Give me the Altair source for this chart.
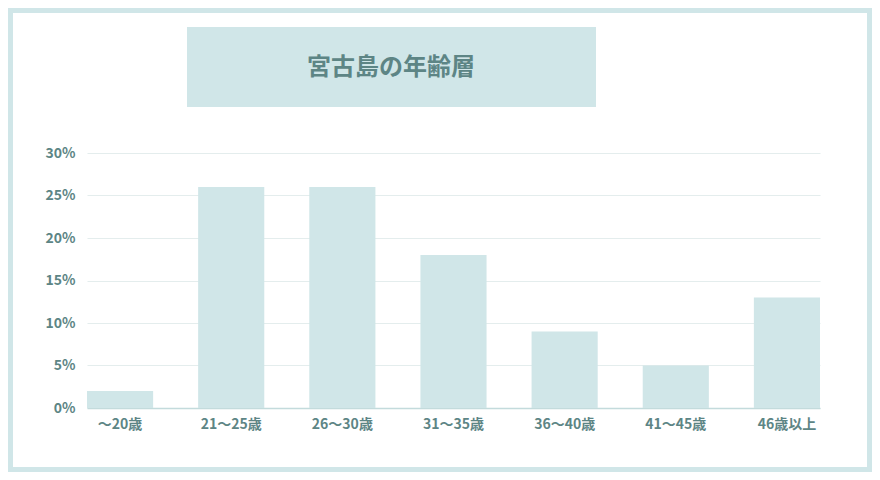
import altair as alt
import pandas as pd

categories = ["〜20歳", "21〜25歳", "26〜30歳", "31〜35歳", "36〜40歳", "41〜45歳", "46歳以上"]
shares = [0.02, 0.26, 0.26, 0.18, 0.09, 0.05, 0.13]
y_ticks = [0, 0.05, 0.10, 0.15, 0.20, 0.25, 0.30]
title_text = "宮古島の年齢層"

TEAL = "#d0e6e8"
TEXT = "#5d8585"
FONT = "Noto Sans CJK JP"

df = pd.DataFrame({"cat": categories, "share": shares})

PAD_L, PAD_T, W, H = 79, 145, 733, 255
TOTAL_W, TOTAL_H = 864, 464

bars = alt.Chart(df).mark_bar(color=TEAL).encode(
    x=alt.X("cat:N", sort=categories, title=None,
            scale=alt.Scale(paddingInner=0.405, paddingOuter=0),
            axis=alt.Axis(labelAngle=0, labelFont=FONT, labelFontSize=14,
                          labelFontWeight="bold", labelColor=TEXT, labelPadding=9,
                          ticks=False, domain=True, domainColor="#c3dbdc",
                          domainWidth=1.5, grid=False)),
    y=alt.Y("share:Q", title=None,
            scale=alt.Scale(domain=[0, 0.30], nice=False),
            axis=alt.Axis(values=y_ticks, format=".0%", labelFont=FONT,
                          labelFontSize=14, labelFontWeight="bold", labelColor=TEXT,
                          labelPadding=12, ticks=False, domain=False,
                          grid=True, gridColor="#e4eded", gridWidth=1.2)),
)

title_box = alt.Chart(pd.DataFrame({"t": [title_text]})).mark_rect(color=TEAL).encode(
    x=alt.value(179 - PAD_L), x2=alt.value(588 - PAD_L),
    y=alt.value(19 - PAD_T), y2=alt.value(99 - PAD_T),
)

title_label = alt.Chart(pd.DataFrame({"t": [title_text]})).mark_text(
    font=FONT, fontSize=24, fontWeight="bold", color=TEXT,
    align="center", baseline="middle",
).encode(
    x=alt.value(383 - PAD_L), y=alt.value(60 - PAD_T), text="t:N",
)

frame = alt.Chart(pd.DataFrame({"t": [title_text]})).mark_rect(
    fill=None, stroke=TEAL, strokeWidth=5,
).encode(
    x=alt.value(2.5 - PAD_L), x2=alt.value(TOTAL_W - 2.5 - PAD_L),
    y=alt.value(2.5 - PAD_T), y2=alt.value(TOTAL_H - 2.5 - PAD_T),
)

chart = alt.layer(frame, title_box, title_label, bars).properties(
    width=W, height=H,
    autosize=alt.AutoSizeParams(type="none"),
    padding={"left": PAD_L, "top": PAD_T,
             "right": TOTAL_W - PAD_L - W, "bottom": TOTAL_H - PAD_T - H},
    background="white",
).configure_view(stroke=None)

chart.save("out.html", embed_options={"renderer": "svg", "actions": False})
